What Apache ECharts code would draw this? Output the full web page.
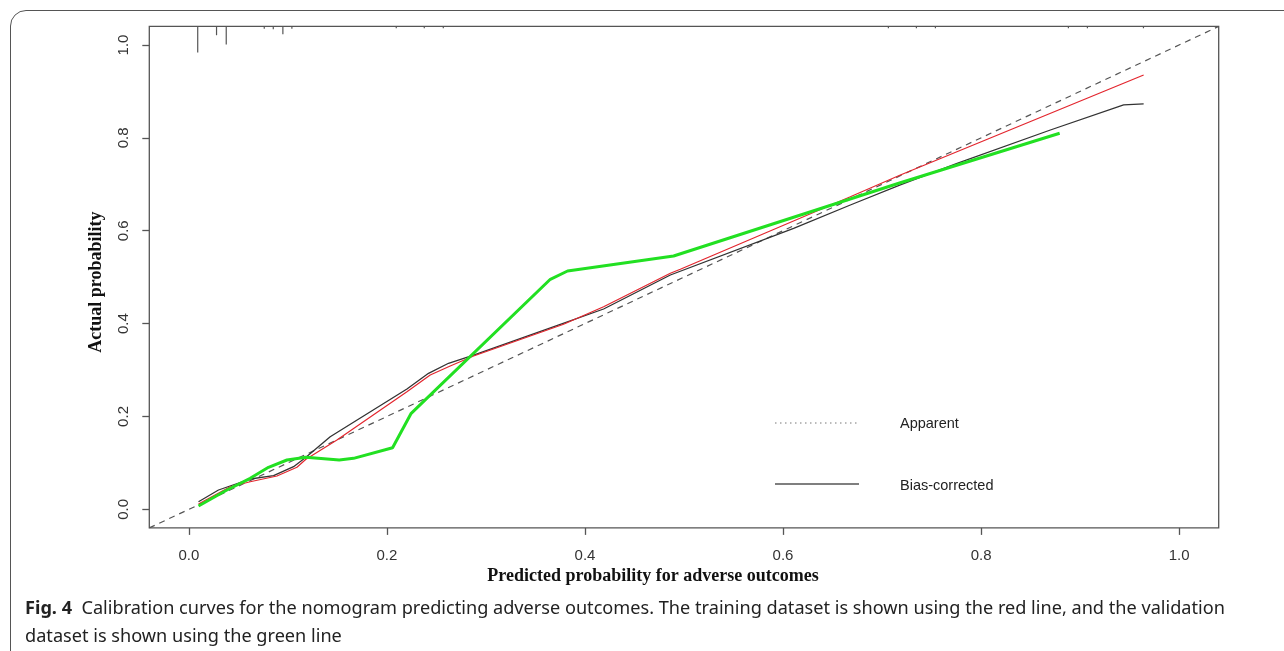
<!DOCTYPE html>
<html>
<head>
<meta charset="utf-8">
<script src="https://cdn.jsdelivr.net/npm/echarts@6/dist/echarts.min.js"></script>
<style>
  html, body { margin: 0; padding: 0; background: #fff; overflow: hidden; }
  #wrap { position: relative; width: 1284px; height: 651px; overflow: hidden; }
  #frame { position: absolute; left: 10px; top: 10px; width: 1400px; height: 800px;
           border: 1.5px solid #555; border-radius: 16px; box-sizing: border-box; }
  #chart { position: absolute; left: 0; top: 0; width: 1284px; height: 651px; }
  #caption { position: absolute; left: 25px; top: 593px; font-family: "Noto Sans", sans-serif;
             font-size: 18.5px; line-height: 28px; color: #222; white-space: nowrap;
             transform-origin: 0 0; }
  #caption b { font-weight: bold; }
</style>
</head>
<body>
<div id="wrap">
  <div id="frame"></div>
  <div id="chart"></div>
  <div id="caption">
    <div id="cap1"><b>Fig. 4</b>&nbsp; Calibration curves for the nomogram predicting adverse outcomes. The training dataset is shown using the red line, and the validation</div>
    <div id="cap2">dataset is shown using the green line</div>
  </div>
</div>
<script>
// ---- data ----
const tickValues = [0, 0.2, 0.4, 0.6, 0.8, 1.0];

const idealX = [-0.04, 1.04];
const idealY = [-0.04, 1.04];

// Bias-corrected (black)
const biasX = [0.0097, 0.0299, 0.0619, 0.0855, 0.1057, 0.1182, 0.1427, 0.2202, 0.2420, 0.2622, 0.2875, 0.3751, 0.4188, 0.4862, 0.6107, 0.6680, 0.7185, 0.7758, 0.8700, 0.9440, 0.9642];
const biasY = [0.0164, 0.0416, 0.0653, 0.0724, 0.0918, 0.1120, 0.1564, 0.2591, 0.2929, 0.3145, 0.3323, 0.3985, 0.4314, 0.5046, 0.6052, 0.6554, 0.6985, 0.7452, 0.8169, 0.8708, 0.8730];

// Training (red)
const trainX = [0.0097, 0.0417, 0.0619, 0.0889, 0.1091, 0.1182, 0.1495, 0.2202, 0.2437, 0.2639, 0.2875, 0.3784, 0.4188, 0.4862, 0.4963, 0.6680, 0.7185, 0.9642];
const trainY = [0.0114, 0.0487, 0.0594, 0.0717, 0.0905, 0.1077, 0.1493, 0.2533, 0.2893, 0.3086, 0.3302, 0.3985, 0.4364, 0.5083, 0.5169, 0.6733, 0.7200, 0.9354];

// Validation (green)
const validX = [0.0097, 0.0384, 0.0619, 0.0804, 0.0990, 0.1182, 0.1518, 0.1663, 0.2057, 0.2245, 0.3650, 0.3824, 0.4895, 0.6545, 0.7185, 0.8794];
const validY = [0.0071, 0.0416, 0.0668, 0.0905, 0.1062, 0.1120, 0.1062, 0.1098, 0.1327, 0.2068, 0.4954, 0.5132, 0.5456, 0.6591, 0.7034, 0.8098];

// Rug of predicted probabilities (position, relative length in y units)
const rugX   = [0.0089, 0.0279, 0.0377, 0.0761, 0.0852, 0.0949, 0.1040, 0.2094, 0.2377, 0.2569, 0.7064, 0.7347, 0.7539, 0.8882, 0.9074, 0.9640];
const rugLen = [0.056, 0.019, 0.039, 0.005, 0.006, 0.017, 0.005, 0.004, 0.004, 0.004, 0.004, 0.004, 0.004, 0.004, 0.004, 0.004];

const legendLabels = ['Apparent', 'Bias-corrected'];
const xTitle = 'Predicted probability for adverse outcomes';
const yTitle = 'Actual probability';

// ---- chart ----
const zip = (xs, ys) => xs.map((x, i) => [x, ys[i]]);
const chart = echarts.init(document.getElementById('chart'), null, { renderer: 'canvas' });
const axisMin = -0.04, axisMax = 1.04;
const labelFont = { fontFamily: 'Liberation Sans, Arial, sans-serif', fontSize: 15, color: '#333' };
const titleFont = { fontFamily: 'Liberation Serif, Times New Roman, serif', fontSize: 18, fontWeight: 'bold', color: '#111' };

const option = {
  animation: false,
  backgroundColor: 'transparent',
  grid: { left: 149.3, right: 65.3, top: 26.4, bottom: 123.1, show: true, borderColor: '#555', borderWidth: 1.3, backgroundColor: 'transparent' },
  xAxis: {
    type: 'value', min: axisMin, max: axisMax,
    axisLine: { show: false, onZero: false },
    splitLine: { show: false },
    axisTick: { show: true, customValues: tickValues, length: 7, lineStyle: { color: '#555', width: 1.3 } },
    axisLabel: Object.assign({ customValues: tickValues, margin: 20, formatter: v => v.toFixed(1) }, labelFont),
    name: xTitle, nameLocation: 'middle', nameGap: 39,
    nameTextStyle: Object.assign({ padding: [0, 62, 0, 0] }, titleFont)
  },
  yAxis: {
    type: 'value', min: axisMin, max: axisMax,
    axisLine: { show: false, onZero: false },
    splitLine: { show: false },
    axisTick: { show: true, customValues: tickValues, length: 7, lineStyle: { color: '#555', width: 1.3 } },
    axisLabel: Object.assign({ customValues: tickValues, margin: 18, rotate: 90, formatter: v => v.toFixed(1) }, labelFont),
    name: yTitle, nameLocation: 'middle', nameGap: 44,
    nameTextStyle: Object.assign({ padding: [0, 10, 0, 0] }, titleFont)
  },
  series: [
    { name: 'Ideal', type: 'line', data: zip(idealX, idealY), symbol: 'none', z: 2,
      lineStyle: { color: '#555', width: 1.2, type: [6, 5] } },
    { name: 'Bias-corrected', type: 'line', data: zip(biasX, biasY), symbol: 'none', z: 3,
      lineStyle: { color: '#333', width: 1.3 } },
    { name: 'Training', type: 'line', data: zip(trainX, trainY), symbol: 'none', z: 4,
      lineStyle: { color: '#e3262e', width: 1.2 } },
    { name: 'Validation', type: 'line', data: zip(validX, validY), symbol: 'none', z: 5,
      lineStyle: { color: '#22e022', width: 3 } },
    { name: 'Rug', type: 'custom', z: 6,
      data: zip(rugX, rugLen),
      renderItem: function (params, api) {
        const x = api.value(0), len = api.value(1);
        const p0 = api.coord([x, axisMax]);
        const p1 = api.coord([x, axisMax - len]);
        return { type: 'line', shape: { x1: p0[0], y1: p0[1], x2: p1[0], y2: p1[1] },
                 style: { stroke: '#555', lineWidth: 1.2 } };
      }
    }
  ],
  graphic: [
    { type: 'line', shape: { x1: 775, y1: 423, x2: 857, y2: 423 }, style: { stroke: '#777', lineWidth: 1, lineDash: [1.5, 3.5] } },
    { type: 'text', left: 900, top: 416, style: { text: legendLabels[0], font: '14.5px "Liberation Sans", Arial, sans-serif', fill: '#222' } },
    { type: 'line', shape: { x1: 775, y1: 484, x2: 859, y2: 484 }, style: { stroke: '#555', lineWidth: 1.3 } },
    { type: 'text', left: 900, top: 478, style: { text: legendLabels[1], font: '14.5px "Liberation Sans", Arial, sans-serif', fill: '#222' } }
  ]
};
chart.setOption(option);

// fit caption width to the reference (line 1 spans ~1200px)
const cap = document.getElementById('caption');
const w = document.getElementById('cap1').scrollWidth;
if (w > 0) cap.style.transform = 'scaleX(' + (1200 / w) + ')';
</script>
</body>
</html>
